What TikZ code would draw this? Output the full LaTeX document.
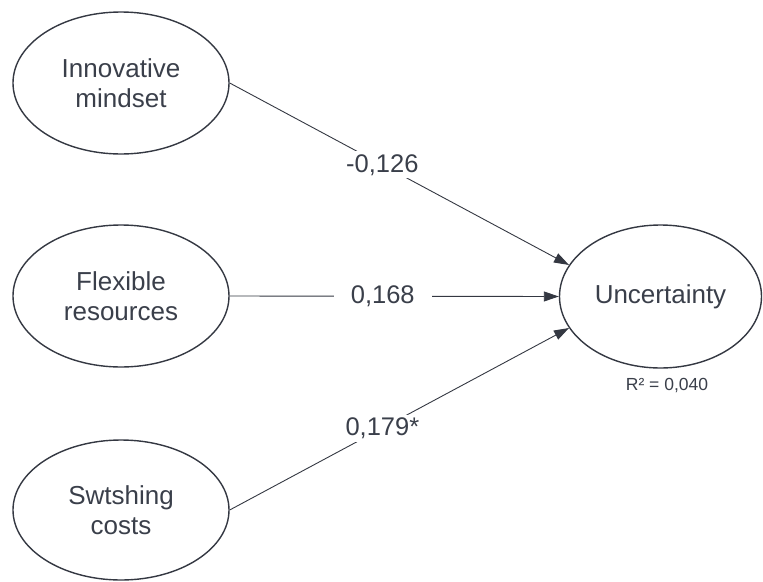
\documentclass[tikz,border=0pt]{standalone}
\usepackage{fontspec}
\setmainfont{Liberation Sans}
\usetikzlibrary{shapes.geometric,arrows.meta}
\definecolor{inkgray}{RGB}{58,63,74}
\definecolor{linegray}{RGB}{52,56,66}
\tikzset{
  construct/.style={ellipse, draw=linegray, line width=1.4pt, inner sep=0pt,
    text=inkgray, align=center, font=\fontsize{26}{30}\selectfont},
  path/.style={draw=linegray, line width=0.9pt,
    -{Triangle[length=15pt,width=10pt]}},
  coef/.style={fill=white, text=inkgray, inner sep=3pt,
    font=\fontsize{25.5}{30}\selectfont},
  rsq/.style={text=inkgray, inner sep=0pt, font=\fontsize{17.5}{20}\selectfont}
}
\begin{document}
\begin{tikzpicture}[x={(1pt,0pt)}, y={(0pt,-1pt)}]
  \useasboundingbox (0,0) rectangle (763,581);

  % predictor constructs
  \node[construct, minimum width=216pt, minimum height=142pt] (innov) at (121,83)
    {Innovative\\mindset};
  \node[construct, minimum width=216pt, minimum height=142pt] (flex) at (121,296)
    {Flexible\\resources};
  \node[construct, minimum width=216pt, minimum height=140pt] (switch) at (121,510)
    {Swtshing\\costs};

  % outcome construct
  \node[construct, minimum width=202pt, minimum height=143pt] (uncert) at (660.5,296.5)
    {Uncertainty};
  \node[rsq] (r2) at (667,386) {R² = 0,040};

  % structural paths with coefficients
  \draw[path] (innov.east) -- node[coef, pos=0.45] (c1) {-0,126} (uncert.161);
  \draw[path] (flex.east) -- node[coef, pos=0.465, inner xsep=17pt] (c2) {0,168} (uncert.west);
  \draw[path] (switch.east) -- node[coef, pos=0.45] (c3) {0,179*} (uncert.199);
\end{tikzpicture}
\end{document}
